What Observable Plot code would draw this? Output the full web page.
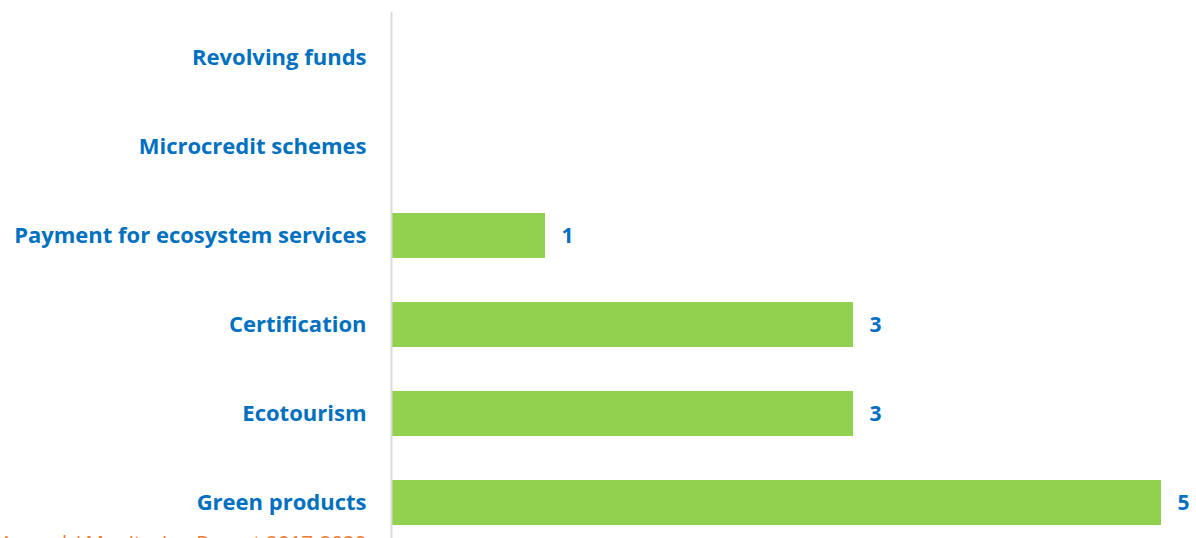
<!DOCTYPE html>
<html>
<head>
<meta charset="utf-8">
<script src="https://cdn.jsdelivr.net/npm/d3@7"></script>
<script src="https://cdn.jsdelivr.net/npm/@observablehq/plot@0.6"></script>
<style>
  html, body { margin: 0; padding: 0; background: #fff; overflow: hidden; }
  #wrap { position: relative; width: 1196px; height: 538px; }
  #caption { position: absolute; left: 0; width: 364px; text-align: right; top: 528px;
    font-family: "Open Sans", sans-serif; font-size: 20.5px; color: #ED7D31; white-space: nowrap; }
</style>
</head>
<body>
<div id="wrap"><div id="chart"></div><div id="caption">Annual / Monitoring Report 2017-2020</div></div>
<script>
const categories = ["Revolving funds", "Microcredit schemes", "Payment for ecosystem services", "Certification", "Ecotourism", "Green products"];
const values = [0, 0, 1, 3, 3, 5];
const data = categories.map((c, i) => ({category: c, value: values[i]}));

const blue = "#0070C0";
const green = "#92D050";

const chart = Plot.plot({
  width: 1196,
  height: 538,
  marginLeft: 391,
  marginRight: 35,
  marginTop: 35,
  marginBottom: 13.5,
  style: {fontFamily: "'Open Sans', sans-serif", background: "#fff"},
  x: {domain: [0, 5], axis: null},
  y: {domain: categories, paddingInner: 0.5, paddingOuter: 0, label: null},
  marks: [
    Plot.barX(data, {x: "value", y: "category", fill: green}),
    Plot.ruleX([0], {stroke: "#d9d9d9", strokeWidth: 2, insetTop: -23, insetBottom: -13.5}),
    Plot.text(data.filter(d => d.value > 0), {x: "value", y: "category", text: d => String(d.value),
      textAnchor: "start", dx: 16, fill: blue, fontSize: 21, fontWeight: "bold"}),
    Plot.axisY({tickSize: 0, tickPadding: 25, fontSize: 22, fontWeight: "bold", color: blue, label: null})
  ]
});
document.getElementById("chart").appendChild(chart);
</script>
</body>
</html>
